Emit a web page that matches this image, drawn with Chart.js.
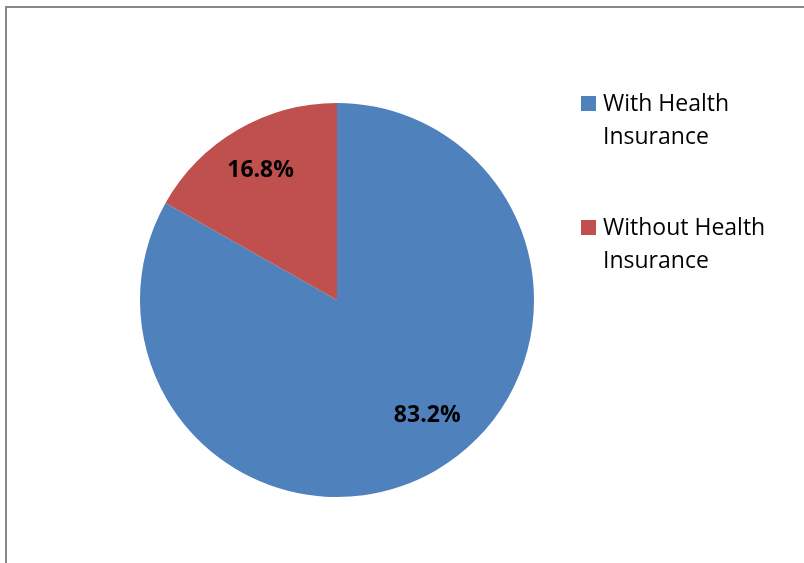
<!DOCTYPE html>
<html>
<head>
<meta charset="utf-8">
<script src="https://cdn.jsdelivr.net/npm/chart.js@4.4.1/dist/chart.umd.min.js"></script>
<style>
  html, body { margin: 0; padding: 0; background: #ffffff; overflow: hidden; }
  #frame { position: absolute; left: 5px; top: 6px; width: 900px; height: 700px;
           border: 2px solid #878787; box-sizing: border-box; }
  #wrap { position: absolute; left: 0; top: 0; width: 804px; height: 563px; }
</style>
</head>
<body>
<div id="frame"></div>
<div id="wrap"><canvas id="c" width="804" height="563"></canvas></div>
<script>
// Health insurance coverage shares (percent)
const categories = ['With Health Insurance', 'Without Health Insurance'];
const legendLines = [['With Health', 'Insurance'], ['Without Health', 'Insurance']];
const shares = [83.2, 16.8];
const sliceColors = ['#4F81BD', '#C0504D'];

// Percent labels placed inside each slice (vertically centred on cap height)
const sliceLabels = {
  id: 'sliceLabels',
  afterDatasetsDraw(chart, args, opts) {
    const ctx = chart.ctx;
    const meta = chart.getDatasetMeta(0);
    const values = chart.data.datasets[0].data;
    ctx.save();
    ctx.font = 'bold 23px "Open Sans", sans-serif';
    ctx.fillStyle = '#000000';
    ctx.textAlign = 'center';
    ctx.textBaseline = 'alphabetic';
    meta.data.forEach((arc, i) => {
      const p = arc.getProps(['x', 'y', 'startAngle', 'endAngle', 'outerRadius'], true);
      const mid = (p.startAngle + p.endAngle) / 2 + opts.angleShift[i] * Math.PI / 180;
      const r = p.outerRadius * opts.radiusFactor[i];
      ctx.fillText(values[i].toFixed(1) + '%', p.x + Math.cos(mid) * r, p.y + Math.sin(mid) * r + 8);
    });
    ctx.restore();
  }
};

// Legend with wrapped entries on the right
const sideLegend = {
  id: 'sideLegend',
  afterDraw(chart, args, opts) {
    const ctx = chart.ctx;
    const colors = chart.data.datasets[0].backgroundColor;
    ctx.save();
    ctx.font = '23px "Open Sans", sans-serif';
    ctx.textBaseline = 'alphabetic';
    ctx.textAlign = 'left';
    opts.lines.forEach((lines, i) => {
      const top = opts.top + i * opts.itemGap;
      ctx.fillStyle = colors[i];
      ctx.fillRect(opts.left, top, opts.box, opts.box);
      ctx.fillStyle = '#000000';
      lines.forEach((t, j) => {
        ctx.fillText(t, opts.textLeft, top + 15 + j * opts.lineHeight);
      });
    });
    ctx.restore();
  }
};

new Chart(document.getElementById('c'), {
  type: 'pie',
  data: {
    labels: categories,
    datasets: [{
      data: shares,
      backgroundColor: sliceColors,
      borderWidth: 0
    }]
  },
  options: {
    responsive: false,
    animation: false,
    layout: { padding: { left: 140, right: 270, top: 103, bottom: 66 } },
    plugins: {
      legend: { display: false },
      tooltip: { enabled: false },
      sliceLabels: { radiusFactor: [0.74, 0.77], angleShift: [-8, 0] },
      sideLegend: { lines: legendLines, left: 581, top: 96, box: 15, textLeft: 603,
                    itemGap: 124, lineHeight: 33 }
    }
  },
  plugins: [sliceLabels, sideLegend]
});
</script>
</body>
</html>
